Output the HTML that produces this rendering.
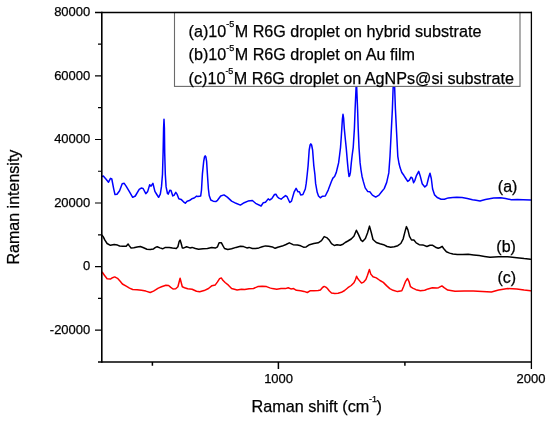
<!DOCTYPE html>
<html><head><meta charset="utf-8"><style>
html,body{margin:0;padding:0;background:#fff;width:550px;height:421px;overflow:hidden}
svg{display:block;will-change:transform}
text{font-family:"Liberation Sans",sans-serif;fill:#000;stroke:#000;stroke-width:0.25px}
</style></head><body>
<svg width="550" height="421" viewBox="0 0 550 421">
<rect width="550" height="421" fill="#fff"/>

<g font-size="13" text-anchor="end">
<text x="90.3" y="16.1">80000</text>
<text x="90.3" y="79.6">60000</text>
<text x="90.3" y="143.2">40000</text>
<text x="90.3" y="206.7">20000</text>
<text x="90.3" y="270.3">0</text>
<text x="90.3" y="333.8">-20000</text>
</g>
<g font-size="13" text-anchor="middle">
<text x="278.6" y="383.4">1000</text>
<text x="531" y="383.4">2000</text>
</g>
<text x="251.5" y="411.8" font-size="16.2">Raman shift (cm<tspan font-size="9" dy="-9.8" dx="-0.4">-1</tspan><tspan dy="9.8" dx="-0.5">)</tspan></text>
<text transform="translate(18.9,207.1) rotate(-90)" font-size="16.05" text-anchor="middle">Raman intensity</text>
<!-- spectra -->
<g fill="none" stroke-width="1.5" stroke-linejoin="round" stroke-linecap="round">
<path id="sa" stroke="#0000ff" d="M102.2 176.4 L103.3 176 L105.9 179 L108.5 182.2 L110.5 178.3 L111.8 179 L113.7 188.8 L115 194.6 L117 194.2 L119.6 190.7 L122.2 183.8 L124.2 183.3 L126.1 186.1 L128.8 190.7 L132.7 197.3 L135.3 196 L139.2 189.4 L141.2 188.1 L143.1 188.5 L145.8 193.7 L147.7 191.4 L149.7 184.8 L151 186.1 L152.9 183.3 L154.9 191.4 L156.8 194.5 L158.6 197.3 L160.3 194.1 L161.5 186.4 L162.5 174.1 L163.1 152.7 L163.6 128 L164 119.3 L164.4 128 L164.7 152.7 L165.3 174.1 L166.1 186.9 L167.5 193.5 L168.3 194.1 L169.8 190.2 L171 190.5 L172.8 195.9 L174 195.3 L175.8 192.3 L177 194.1 L178.8 198.8 L181.1 199.4 L183.5 201.8 L185.3 203.2 L187.1 201.2 L189.4 200.6 L191.8 198.8 L194.2 198 L196.6 196.1 L197.8 196.5 L200.7 195.9 L201.5 190 L202.4 174.1 L203.7 161.3 L204.5 157 L205.2 155.9 L205.9 157 L206.6 161.3 L207.4 174.1 L208.4 189 L209.2 195.5 L210.8 200 L213.2 201.2 L215.8 201.6 L217.5 200.3 L220.7 196 L224 194.9 L227.3 197.1 L231.6 201.1 L236 203.3 L240.4 205.1 L244.2 202.7 L248 201.1 L252.4 200.5 L255.6 203.3 L261.1 206 L263.3 202.7 L265.5 202.2 L268.2 198.9 L269.6 200 L271.8 198.6 L274.5 194.5 L275.9 194.2 L277.3 196.7 L278.9 198.1 L281.1 199.2 L283.3 197.3 L285.5 195.6 L287.1 196.7 L289.8 202.5 L291.5 201.1 L294.2 191.8 L296.1 188.3 L298 191.8 L299.4 191.8 L300.7 195.1 L302.9 194.5 L305.3 189 L306.2 183.4 L307.2 174.5 L308.1 165.6 L309.2 150 L310.1 145 L310.8 143.9 L311.6 145 L312.6 150 L313.8 165.6 L314.9 174.5 L315.6 183.4 L317.2 192.3 L318.5 196 L320.3 197.8 L322.5 196.2 L325.3 196 L328.2 190.1 L331.4 181.5 L332.9 178.1 L334.6 176.5 L336.3 172.4 L337.6 167 L338.6 162.9 L339.6 155 L340.5 147.6 L341.2 138 L341.8 128.6 L342.4 119 L343 114.3 L343.6 118 L344.3 128.6 L345.3 139 L346.2 147.6 L347.5 162.9 L348.3 171 L349 176.5 L349.7 175.5 L350.4 172.4 L351.3 162.9 L352.2 155 L353.2 147.6 L354.4 128.6 L355.1 109.5 L356.4 80 L357.6 109.5 L358.2 128.6 L359 147.6 L360.1 162.9 L361 170 L362 176.2 L363.3 181.4 L365.2 187.9 L367.8 191.6 L369.8 191.8 L372.4 195.1 L375.7 197.1 L379 195.1 L381.6 191.8 L384.2 188.6 L386.7 182.4 L388.8 172.9 L390 156.3 L391.2 132.5 L392.4 108.8 L393.2 86 L393.9 80 L394.6 86 L395.4 108.8 L396.6 132.5 L397.8 156.3 L399 163.5 L400.2 168.1 L401.8 172.5 L403.8 175.3 L405.5 178 L407.7 181.4 L409.4 180.1 L411 177.2 L412.3 178.1 L413.6 182.7 L414.9 180.3 L416.3 175.9 L418.7 171.3 L420.2 175.9 L422.2 183.8 L424.8 187 L426.8 185.1 L428.7 177.2 L430 173.3 L431.3 178.5 L432.6 189 L434.6 194.9 L437.2 197.5 L441.1 199.2 L444.4 199.2 L448.3 197.9 L452.9 197.5 L456.8 197.2 L462.1 197.6 L467.3 198.4 L472.5 199.7 L476 200.3 L480 201 L485.4 199.5 L493.6 198.1 L500.7 197.8 L505.5 198.4 L511.4 199.8 L517.3 199.6 L523.2 199.8 L530.7 199.9"/>
<path id="sb" stroke="#000" d="M102.2 235.4 L103.3 236.9 L104.9 240.2 L107.1 243.5 L110.4 245.3 L114.2 244.5 L117.5 245.1 L119.6 246 L122.9 246.2 L126.2 246.2 L128.1 244 L129.2 245.6 L131.1 248.1 L133.8 247.8 L137.1 247.1 L140.4 246.5 L143.6 247.8 L146.9 249.2 L150.2 249.5 L153.5 248.9 L155.5 247.4 L157.2 246.8 L159.9 247.9 L162.6 248.8 L165.4 247.4 L169.2 247.4 L172.5 248.1 L176.3 248.5 L177.9 246.8 L179.2 241.4 L180.1 240.1 L181.2 243.5 L182.3 247.9 L183.9 247.9 L186.6 246.8 L189.9 247.9 L192.1 247.4 L195.4 248.5 L198.6 249.2 L203 248.8 L207.4 248.5 L211.7 247.4 L215.3 248.1 L217.5 246.8 L219.1 242.7 L221.3 242.7 L222.9 245.7 L224.5 248.5 L227.8 249.5 L231.6 248.8 L236 247.4 L240.4 246.3 L243.6 246.6 L246.9 247.9 L249.1 247.4 L252.4 248.5 L255.6 248.5 L258.9 247.9 L262.2 246.8 L265.5 245.9 L268.7 246.3 L272.4 246.9 L275.1 248.3 L277.8 247.2 L282.2 246.1 L286 244.5 L289.3 242.8 L293.1 244.7 L297.5 245 L300.7 245.8 L303.5 247.2 L306.2 246.9 L309.5 244.7 L313.8 243.6 L318.2 242.8 L321.5 240.6 L324.2 236.6 L327.2 237.9 L329.4 240.3 L331.5 243.6 L334.3 245.5 L337 244.7 L340.3 245.3 L343 244.2 L345.2 242.5 L347.9 241 L351.2 239 L353.9 236.3 L356.4 230.3 L358.3 234.1 L361 240.1 L362.6 241.4 L365.4 238.5 L367.5 233 L369.5 226.1 L371.4 233 L373 239.5 L376.3 242.5 L380 243.8 L383.6 244.7 L387.1 246.5 L390.7 247.3 L394.3 246.8 L397.8 245.7 L400.8 243.5 L403.2 238.8 L405 231.6 L406.4 226.6 L407.9 229.9 L409.5 236.4 L411.5 240 L413.9 240 L416.2 242.9 L419.2 244.7 L422.8 244.9 L426.9 246.5 L429.9 245.3 L432.7 245.3 L435.5 247.2 L438.2 248.3 L440.4 247.5 L442.2 246.4 L443.6 248.5 L446.4 251.8 L449.6 253.1 L452.9 254 L457.3 254.5 L462.7 254.5 L468.2 254.2 L473.6 254.9 L479.1 255.6 L484.5 256.4 L490 257.3 L498.6 256.8 L507.7 256.8 L516.8 257.7 L524.1 258.6 L530.5 259.2"/>
<path id="sc" stroke="#ff0000" d="M102.3 272.3 L104.4 275.3 L107.1 278.8 L110.4 279.1 L112.5 277.7 L114.7 276.9 L117.5 278.3 L120.2 281.3 L122.4 284 L126.2 286.2 L129.5 288.1 L132.7 289.5 L137.1 289.7 L141.5 290.3 L145.8 291.1 L150.2 292.5 L153.5 291.1 L155.5 289.9 L158.3 288.1 L161.5 286.8 L165.9 285.2 L168.6 285.5 L170.8 287.4 L173 289 L175.7 288.8 L177.9 286.8 L179 282.5 L180.1 278.3 L181.2 282.5 L182.3 286.8 L184.5 287.7 L187.7 288.8 L192.1 289.2 L196.5 291.2 L199.7 291.7 L204.1 290.6 L208.5 288.5 L212 285.7 L215.3 284.9 L217.5 281.9 L219.6 278.6 L221.3 277.9 L222.9 280.3 L225.1 282.5 L228.4 285.2 L231.6 288.5 L234.4 289.2 L237.1 289.9 L241.5 289.2 L244.7 289.5 L249.1 288.8 L253.5 288.5 L257.8 286.6 L262.2 286.3 L266.5 286.6 L269.8 287.9 L272.4 288.6 L276.7 289.2 L281.1 288.6 L285.5 288.6 L288.2 287.8 L290.9 288.9 L293.6 288.6 L296.4 290.3 L300.7 290.8 L304 291.4 L307.3 292.5 L310 290.8 L313.8 290.8 L318.2 290.5 L320.4 290 L322.5 287.5 L324.2 286.4 L325.8 287.1 L327.2 288.3 L329.4 291 L331.5 293 L334.8 293.4 L338.1 293.2 L341.4 292.3 L344.6 290.5 L347.9 287.7 L351.2 285.5 L353.9 282.8 L355.5 279.5 L356.6 276.3 L357.7 278.5 L359.4 280.6 L361.5 283.1 L363.7 282.1 L365.9 279.5 L367.5 275.2 L369.4 269.4 L370.8 274.1 L373 276.8 L376.3 277.9 L380 280.5 L383.3 282.4 L386.5 285.6 L389.8 288.6 L393.1 290.3 L397.5 291.6 L401.8 290.8 L403.5 286.7 L405.6 281.3 L407.5 278.5 L408.9 281.3 L410.5 286.7 L412.7 288.1 L416 289.7 L420.4 290.8 L424.7 290.3 L428 288.9 L432.4 287.8 L436.7 288.1 L438.6 287.7 L441.9 285.9 L444.1 287.7 L447.7 290.1 L455 291.3 L464.1 291.1 L473.2 290.9 L482.3 291.4 L491.4 291.9 L498.6 290.1 L507.7 288.6 L516.8 289 L524.1 290.1 L530.5 290.8"/>
</g>
<!-- legend box -->
<rect x="174.5" y="12.5" width="345.5" height="73.9" fill="#fff" stroke="#6a6a6a" stroke-width="1.1"/>
<g font-size="16.15">
<text x="188.6" y="36.6">(a)10<tspan font-size="9" dy="-9.6">-5</tspan><tspan dy="9.6" dx="0.4">M R6G droplet on hybrid substrate</tspan></text>
<text x="188.6" y="60.2">(b)10<tspan font-size="9" dy="-9.6">-5</tspan><tspan dy="9.6" dx="0.4">M R6G droplet on Au film</tspan></text>
<text x="188.6" y="83.6">(c)10<tspan font-size="9" dy="-9.6">-5</tspan><tspan dy="9.6" dx="0.4">M R6G droplet on AgNPs@si substrate</tspan></text>
</g>
<!-- axes -->
<g stroke="#000" fill="none">
<path d="M101.8 11.8 V362.8" stroke-width="1.6"/>
<path d="M98 362 H531.5" stroke-width="1.6"/>
<path d="M95 12.5 H532" stroke-width="1.4"/>
<path d="M531.4 11.8 V369" stroke-width="1.3"/>
<!-- y ticks -->
<path d="M95 75.94H101 M95 139.48H101 M95 203.02H101 M95 266.56H101 M95 330.10H101 M98 44.17H101 M98 107.71H101 M98 171.25H101 M98 234.79H101 M98 298.33H101" stroke-width="1.2"/>
<!-- x ticks -->
<path d="M278.4 362V369 M152.4 362V365.8 M404.9 362V365.8" stroke-width="1.5"/>
</g>
<g font-size="16">
<text x="497.8" y="192.4">(a)</text>
<text x="496.3" y="251.9">(b)</text>
<text x="497.5" y="283">(c)</text>
</g>
</svg>
</body></html>
